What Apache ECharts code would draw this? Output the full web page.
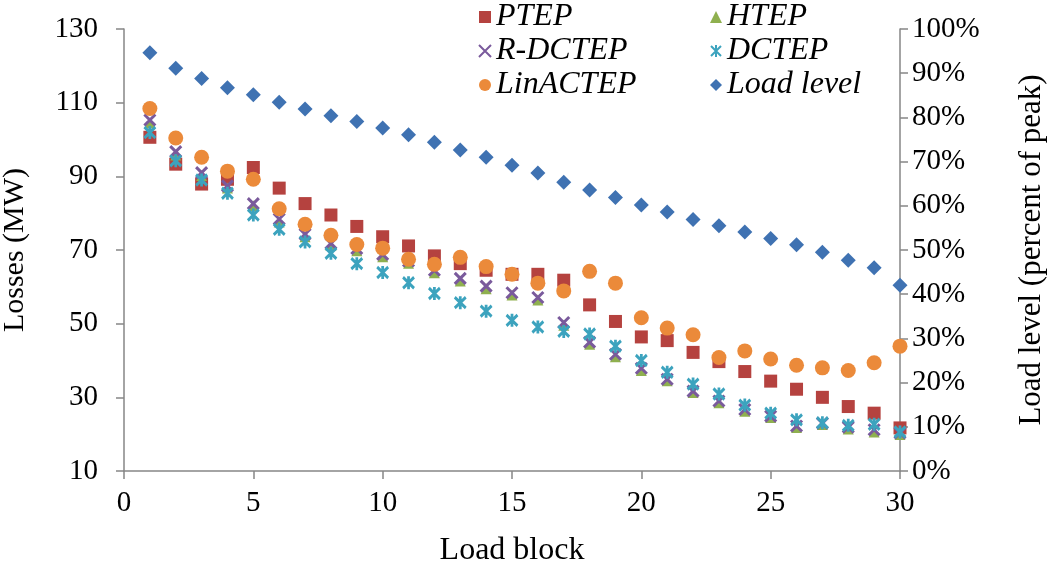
<!DOCTYPE html>
<html>
<head>
<meta charset="utf-8">
<script src="https://cdn.jsdelivr.net/npm/echarts@6/dist/echarts.min.js"></script>
<style>html,body{margin:0;padding:0;background:#fff}#c{width:1051px;height:571px}</style>
</head>
<body>
<div id="c"></div>
<script>
const blocks = [1,2,3,4,5,6,7,8,9,10,11,12,13,14,15,16,17,18,19,20,21,22,23,24,25,26,27,28,29,30];
const PTEP = [100.6,93.3,87.9,89.2,92.4,86.8,82.6,79.5,76.4,73.6,71.1,68.4,66.3,64.5,63.4,63.4,61.8,55.1,50.6,46.4,45.4,42.2,39.7,37.0,34.4,32.2,30.0,27.5,25.7,21.7];
const HTEP = [104.5,95.8,90.2,86.8,82.0,77.6,73.6,71.2,69.8,68.2,66.4,63.8,61.6,59.5,57.8,56.4,49.6,44.4,41.0,37.3,34.5,31.3,28.5,26.2,24.5,21.8,22.6,21.4,20.6,19.9];
const RDCTEP = [105.3,96.7,91.0,87.4,82.6,78.4,74.3,71.8,70.4,68.8,67.0,64.5,62.3,60.2,58.4,57.1,50.3,45.0,41.7,37.9,34.9,31.7,29.0,26.7,24.9,22.2,23.0,21.9,21.2,20.3];
const DCTEP = [101.9,94.2,89.0,85.4,79.5,75.6,72.2,69.1,66.3,63.9,61.1,58.2,55.7,53.4,50.9,49.1,47.9,47.2,43.9,40.0,36.8,33.6,30.9,27.9,25.7,23.9,23.1,22.4,22.7,20.6];
const LinACTEP = [108.4,100.4,95.2,91.4,89.2,81.2,77.0,74.0,71.5,70.5,67.5,66.1,68.0,65.5,63.4,61.0,58.9,64.2,61.0,51.6,48.8,47.0,40.8,42.6,40.4,38.7,38.0,37.3,39.4,43.9];
const LoadLevel = [94.6,91.1,88.8,86.7,85.1,83.4,81.9,80.4,79.1,77.6,76.1,74.4,72.6,71.0,69.2,67.4,65.3,63.6,61.9,60.2,58.6,56.9,55.5,54.1,52.6,51.2,49.5,47.7,46.0,42.0];
const xTicks = [0,5,10,15,20,25,30];
const leftTicks = [10,30,50,70,90,110,130];
const rightTicks = [0,10,20,30,40,50,60,70,80,90,100];

const FONT = 'Liberation Serif';
const pair = (arr) => arr.map((v, i) => [blocks[i], v]);
const axisCol = '#868686';

const chart = echarts.init(document.getElementById('c'), null, {renderer: 'canvas'});
const mk = (name, data, symbol, size, color, stroke, yIdx) => ({
  name, type: 'scatter', data: pair(data), symbol, symbolSize: size, yAxisIndex: yIdx || 0,
  itemStyle: stroke ? {color: color, borderColor: color, borderWidth: 3, opacity: 1} : {color: color, opacity: 1},
  emphasis: {disabled: true}
});
const legendText = {fontFamily: FONT, fontStyle: 'italic', fontSize: 32, color: '#000', lineHeight: 30};
chart.setOption({
  animation: false,
  backgroundColor: '#fff',
  grid: {left: 124, top: 29, width: 776, height: 442, containLabel: false, outerBoundsMode: 'none'},
  legend: [
    {orient: 'vertical', left: 478, top: 1, padding: 0, itemGap: 2, itemWidth: 12, itemHeight: 12,
     textStyle: legendText, data: ['PTEP', 'R-DCTEP', 'LinACTEP']},
    {orient: 'vertical', left: 710, top: 1, padding: 0, itemGap: 2, itemWidth: 12, itemHeight: 12,
     textStyle: legendText, data: ['HTEP', 'DCTEP', 'Load level']}
  ],
  xAxis: {
    type: 'value', min: 0, max: 30, interval: 5,
    name: 'Load block', nameLocation: 'middle', nameGap: 64,
    nameTextStyle: {fontFamily: FONT, fontSize: 32, color: '#000'},
    axisLine: {show: true, lineStyle: {color: axisCol, width: 1.5}},
    axisTick: {show: true, length: 8, lineStyle: {color: axisCol, width: 1.5}},
    axisLabel: {fontFamily: FONT, fontSize: 29, color: '#000', margin: 18,
      customValues: xTicks},
    splitLine: {show: false}
  },
  yAxis: [
    {
      type: 'value', min: 10, max: 130, position: 'left',
      name: 'Losses (MW)', nameLocation: 'middle', nameGap: 94,
      nameTextStyle: {fontFamily: FONT, fontSize: 30, color: '#000'},
      axisLine: {show: true, lineStyle: {color: axisCol, width: 1.5}},
      axisTick: {show: true, length: 8, lineStyle: {color: axisCol, width: 1.5}, customValues: leftTicks},
      axisLabel: {fontFamily: FONT, fontSize: 29, color: '#000', margin: 26, customValues: leftTicks},
      splitLine: {show: false}
    },
    {
      type: 'value', min: 0, max: 100, interval: 10, position: 'right',
      name: 'Load level (percent of peak)', nameLocation: 'middle', nameGap: 116,
      nameTextStyle: {fontFamily: FONT, fontSize: 31, color: '#000'},
      axisLine: {show: true, lineStyle: {color: axisCol, width: 1.5}},
      axisTick: {show: true, length: 8, lineStyle: {color: axisCol, width: 1.5}, customValues: rightTicks},
      axisLabel: {fontFamily: FONT, fontSize: 29, color: '#000', margin: 12, formatter: '{value}%', customValues: rightTicks},
      splitLine: {show: false}
    }
  ],
  series: [
    mk('PTEP', PTEP, 'rect', 13, '#B5423F'),
    mk('HTEP', HTEP, 'triangle', 11, '#8FB04F'),
    mk('R-DCTEP', RDCTEP, 'path://M0,0L10,10M10,0L0,10', 11, '#7A5A9C', true),
    mk('DCTEP', DCTEP, 'path://M0,1L10,11M10,1L0,11M5,0L5,12', [11, 13], '#3CA3BE', true),
    mk('LinACTEP', LinACTEP, 'circle', 15, '#EB8A3A'),
    mk('Load level', LoadLevel, 'diamond', 15, '#3F72B2', false, 1)
  ]
});
</script>
</body>
</html>
